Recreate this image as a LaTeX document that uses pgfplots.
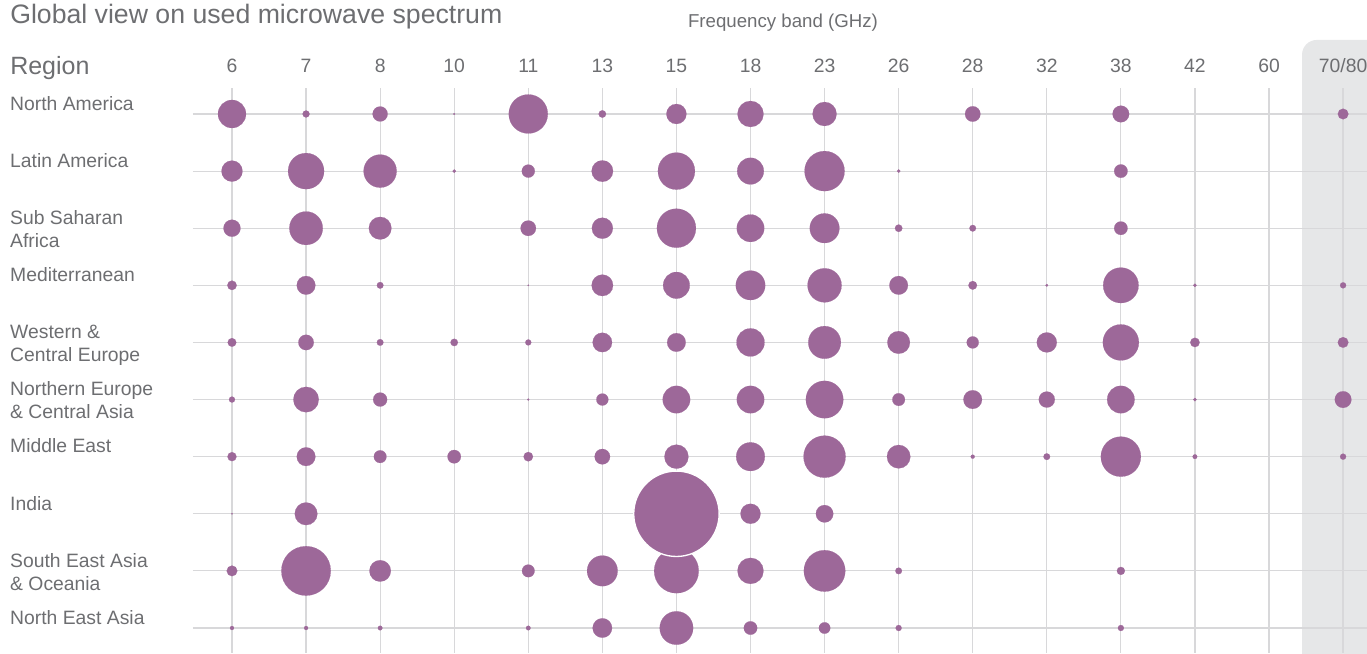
\documentclass[border=0pt]{standalone}
\usepackage{fontspec}
\setmainfont{Liberation Sans}
\usepackage{pgfplots}
\usepackage{pgfplotstable}
\pgfplotsset{compat=1.18}
\definecolor{bub}{RGB}{157,104,153}
\definecolor{gridc}{RGB}{216,216,218}
\definecolor{txt}{RGB}{109,110,113}
\definecolor{boxc}{RGB}{230,231,232}
% x = band index (0..15), y = region index (0..9), r = radius in px
\pgfplotstableread{
x y r
0 0 14
1 0 3.5
2 0 7.5
3 0 0.9
4 0 19.5
5 0 3.7
6 0 10
7 0 13
8 0 12
10 0 7.7
12 0 8.3
15 0 5.3
0 1 10.5
1 1 18
2 1 16.5
3 1 1.7
4 1 6.5
5 1 10.7
6 1 18.5
7 1 13.3
8 1 20
9 1 1.7
12 1 6.7
0 2 8.5
1 2 16.7
2 2 11.3
4 2 7.7
5 2 10.5
6 2 19.5
7 2 13.7
8 2 14.8
9 2 3.7
10 2 3.3
12 2 6.7
0 3 4.7
1 3 9.3
2 3 3.3
4 3 0.7
5 3 10.7
6 3 13.3
7 3 14.7
8 3 17
9 3 9.3
10 3 4.3
11 3 1.3
12 3 17.7
13 3 1.7
15 3 3
0 4 4.3
1 4 7.7
2 4 3.3
3 4 3.7
4 4 3
5 4 9.7
6 4 9.3
7 4 14
8 4 16.3
9 4 11.3
10 4 6
11 4 10
12 4 18
13 4 4.7
15 4 5.3
0 5 3
1 5 12.7
2 5 7
4 5 1
5 5 6
6 5 13.7
7 5 13.7
8 5 18.7
9 5 6.3
10 5 9.3
11 5 8
12 5 13.7
13 5 1.7
15 5 8.3
0 6 4.5
1 6 9.3
2 6 6.3
3 6 6.7
4 6 4.7
5 6 7.7
6 6 12
7 6 14.3
8 6 21
9 6 11.7
10 6 2
11 6 3.3
12 6 20
13 6 2.3
15 6 3
0 7 0.7
1 7 11.3
7 7 10
8 7 8.7
0 8 5.3
1 8 24.7
2 8 10.7
4 8 6.3
5 8 15.3
6 8 22.3
7 8 13
8 8 20.7
9 8 3.3
12 8 4
0 9 2
1 9 2
2 9 2.3
4 9 2.3
5 9 9.7
6 9 16.7
7 9 6.7
8 9 5.7
9 9 3
12 9 3
}\bubbles
\pgfplotstableread{
x y r
6 7 42.7
}\bigbubble
\begin{document}
\begin{tikzpicture}
\begin{axis}[
  set layers,
  scale only axis,
  width=880.5pt, height=423.75pt,
  xmin=-0.527, xmax=15.323,
  ymin=-0.455, ymax=9.438,
  y dir=reverse,
  clip=false,
  axis line style={draw=none},
  major tick length=0pt,
  grid=major,
  major grid style={gridc, line width=0.9pt},
  xtick={0,...,15},
  xticklabels={6,7,8,10,11,13,15,18,23,26,28,32,38,42,60,70/80},
  xticklabel pos=upper,
  xticklabel style={font=\fontsize{14.5}{17}\selectfont, text=txt, yshift=8pt},
  ytick={0,...,9},
  yticklabels={North America, Latin America, {Sub Saharan\\Africa}, Mediterranean, {Western \&\\Central Europe}, {Northern Europe\\\& Central Asia}, Middle East, India, {South East Asia\\\& Oceania}, North East Asia},
  yticklabel style={font=\fontsize{14.5}{17.25}\selectfont, text=txt, anchor=north west, align=left, inner sep=0pt, xshift=-137.25pt, yshift=13.5pt},
  /pgf/number format/assume math mode=true,
]
\begin{pgfonlayer}{axis background}
\fill[boxc, rounded corners=11pt] (axis cs:14.446,-1.296) rectangle (axis cs:16.2,10.2);
\end{pgfonlayer}
\addplot[scatter, only marks, mark=*,
  scatter/use mapped color={draw=bub, fill=bub},
  mark options={line width=0.1pt},
  visualization depends on={0.75*\thisrow{r} \as \msize},
  scatter/@pre marker code/.append style={/tikz/mark size=\msize pt}]
  table[x=x, y=y] {\bubbles};
\addplot[scatter, only marks, mark=*,
  scatter/use mapped color={draw=white, fill=bub},
  mark options={line width=1pt},
  visualization depends on={0.75*\thisrow{r} \as \msize},
  scatter/@pre marker code/.append style={/tikz/mark size=\msize pt}]
  table[x=x, y=y] {\bigbubble};
\node[anchor=base west, inner sep=0pt, text=txt, font=\fontsize{20}{23}\selectfont] at (axis cs:-2.997,-1.576) {Global view on used microwave spectrum};
\node[anchor=base west, inner sep=0pt, text=txt, font=\fontsize{18.75}{22}\selectfont] at (axis cs:-2.997,-0.700) {Region};
\node[anchor=base, inner sep=0pt, text=txt, font=\fontsize{14}{17}\selectfont] at (axis cs:7.439,-1.523) {Frequency band (GHz)};
\coordinate (TL) at (axis cs:-3.132,-1.996);
\coordinate (BR) at (axis cs:15.323,9.438);
\end{axis}
\pgfresetboundingbox
\path[use as bounding box] (TL) rectangle (BR);
\end{tikzpicture}
\end{document}
